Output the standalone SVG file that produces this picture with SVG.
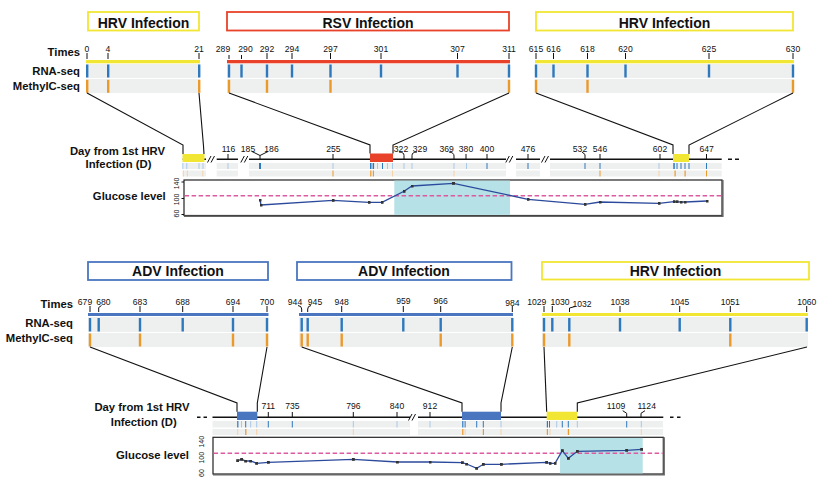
<svg xmlns="http://www.w3.org/2000/svg" width="819" height="485" viewBox="0 0 819 485">
<style>
text{font-family:"Liberation Sans",Arial,sans-serif;fill:#111}
.lbl{font-weight:bold;font-size:11.3px}
.ttl{font-weight:bold;font-size:14px}
.num{font-size:8.6px}
.ax{font-size:7px}
.tk{stroke:#111;stroke-width:1;fill:none}
.band{fill:#eeefef}
.rna{fill:#2e78bd}.met{fill:#ea9a2b}.rnal{fill:#a9c9e8}.metl{fill:#f5d3a6}
.yel{fill:#f1e633}.red{fill:#e8432a}.blu{fill:#4a76bf}
.tl{stroke:#111;stroke-width:1.4;fill:none}
.con{stroke:#111;stroke-width:1.1;fill:none}
.frame{fill:#fff;stroke:#222;stroke-width:1.2}
.shadow{stroke:#666;stroke-width:1.6;fill:none}
.cyan{fill:#b5e1e7}
.thr{stroke:#dd5aa0;stroke-width:1.5;stroke-dasharray:4.5 2.5;fill:none}
.glu{stroke:#2c4a9c;stroke-width:1.3;fill:none;marker-start:url(#sq);marker-mid:url(#sq);marker-end:url(#sq)}
</style>
<defs>
<marker id="sq" markerUnits="userSpaceOnUse" markerWidth="3" markerHeight="3" refX="1.5" refY="1.5"><rect width="3" height="3" fill="#333"/></marker>
</defs>

<!-- Title boxes -->
<g id="title-hrv1"><rect x="88" y="12" width="111" height="18.5" fill="#fff" stroke="#f1e633" stroke-width="1.8"/><text class="ttl" x="143.5" y="28" text-anchor="middle">HRV Infection</text></g>
<g id="title-rsv"><rect x="227" y="12" width="282" height="18.5" fill="#fff" stroke="#e8432a" stroke-width="1.8"/><text class="ttl" x="368" y="28" text-anchor="middle">RSV Infection</text></g>
<g id="title-hrv2"><rect x="536" y="12" width="257" height="18.5" fill="#fff" stroke="#f1e633" stroke-width="1.8"/><text class="ttl" x="664.5" y="28" text-anchor="middle">HRV Infection</text></g>
<g id="title-adv1"><rect x="88" y="262" width="180" height="18" fill="#fff" stroke="#4a76bf" stroke-width="1.8"/><text class="ttl" x="178" y="275.5" text-anchor="middle">ADV Infection</text></g>
<g id="title-adv2"><rect x="297" y="262" width="214.5" height="18" fill="#fff" stroke="#4a76bf" stroke-width="1.8"/><text class="ttl" x="404" y="275.5" text-anchor="middle">ADV Infection</text></g>
<g id="title-hrv3"><rect x="542" y="262" width="267" height="17.5" fill="#fff" stroke="#f1e633" stroke-width="1.8"/><text class="ttl" x="675.5" y="275.5" text-anchor="middle">HRV Infection</text></g>

<!-- Row labels -->
<g id="row-labels-top">
<text class="lbl" x="80" y="56" text-anchor="end">Times</text>
<text class="lbl" x="80" y="74.7" text-anchor="end">RNA-seq</text>
<text class="lbl" x="80" y="89.7" text-anchor="end">MethylC-seq</text>
</g>
<g id="row-labels-bottom">
<text class="lbl" x="73" y="308.3" text-anchor="end">Times</text>
<text class="lbl" x="73" y="326.7" text-anchor="end">RNA-seq</text>
<text class="lbl" x="73" y="342.3" text-anchor="end">MethylC-seq</text>
</g>

<!-- Section: HRV 0-21 -->
<g id="sec-hrv1">
<rect class="band" x="86" y="64" width="114" height="14"/><rect class="band" x="86" y="79" width="114" height="14"/>
<rect class="yel" x="86" y="60" width="114" height="3.3"/>
<path class="tk" d="M87,53V59M108,53V59M199,53V59"/>
<text class="num" text-anchor="middle" y="52"><tspan x="87">0</tspan><tspan x="108">4</tspan><tspan x="199">21</tspan></text>
<g class="rna"><rect x="86" y="64.5" width="2.4" height="13"/><rect x="107" y="64.5" width="2.4" height="13"/><rect x="198" y="64.5" width="2.4" height="13"/></g>
<g class="met"><rect x="86" y="79.8" width="2.4" height="13"/><rect x="107" y="79.8" width="2.4" height="13"/><rect x="198" y="79.8" width="2.4" height="13"/></g>
</g>

<!-- Section: RSV 289-311 -->
<g id="sec-rsv">
<rect class="band" x="227" y="64" width="283" height="14"/><rect class="band" x="227" y="79" width="283" height="14"/>
<rect class="red" x="227" y="60" width="283" height="3.3"/>
<path class="tk" d="M229,55V59M241.5,55V59M267,53V59M292,53V59M330.5,53V59M381,53V59M457.5,53V59M509,53V59"/>
<text class="num" text-anchor="middle" y="52"><tspan x="223">289</tspan><tspan x="245.5">290</tspan><tspan x="267">292</tspan><tspan x="292">294</tspan><tspan x="330.5">297</tspan><tspan x="381">301</tspan><tspan x="457.5">307</tspan><tspan x="509">311</tspan></text>
<g class="rna"><rect x="227.8" y="64.5" width="2.4" height="13"/><rect x="240.3" y="64.5" width="2.4" height="13"/><rect x="265.8" y="64.5" width="2.4" height="13"/><rect x="290.8" y="64.5" width="2.4" height="13"/><rect x="329.3" y="64.5" width="2.4" height="13"/><rect x="379.8" y="64.5" width="2.4" height="13"/><rect x="456.3" y="64.5" width="2.4" height="13"/><rect x="507.8" y="64.5" width="2.4" height="13"/></g>
<g class="met"><rect x="227.8" y="79.8" width="2.4" height="13"/><rect x="265.8" y="79.8" width="2.4" height="13"/><rect x="329.3" y="79.8" width="2.4" height="13"/><rect x="507.8" y="79.8" width="2.4" height="13"/></g>
</g>

<!-- Section: HRV 615-630 -->
<g id="sec-hrv2">
<rect class="band" x="535" y="64" width="259" height="14"/><rect class="band" x="535" y="79" width="259" height="14"/>
<rect class="yel" x="535" y="60" width="259" height="3.3"/>
<path class="tk" d="M536,53V59M553.5,53V59M587.5,53V59M625.5,53V59M709,53V59M793,53V59"/>
<text class="num" text-anchor="middle" y="52"><tspan x="536">615</tspan><tspan x="553.5">616</tspan><tspan x="587.5">618</tspan><tspan x="625.5">620</tspan><tspan x="709">625</tspan><tspan x="793">630</tspan></text>
<g class="rna"><rect x="534.8" y="64.5" width="2.4" height="13"/><rect x="552.3" y="64.5" width="2.4" height="13"/><rect x="586.3" y="64.5" width="2.4" height="13"/><rect x="624.3" y="64.5" width="2.4" height="13"/><rect x="707.8" y="64.5" width="2.4" height="13"/><rect x="791.8" y="64.5" width="2.4" height="13"/></g>
<g class="met"><rect x="534.8" y="79.8" width="2.4" height="13"/><rect x="586.3" y="79.8" width="2.4" height="13"/><rect x="791.8" y="79.8" width="2.4" height="13"/></g>
</g>

<!-- Top timeline -->
<g id="timeline-top">
<text class="lbl" x="117.5" y="154.5" text-anchor="middle">Day from 1st HRV</text>
<text class="lbl" x="118.5" y="167.5" text-anchor="middle">Infection (D)</text>
<g class="band">
<rect x="182.7" y="163" width="23.3" height="6"/><rect x="182.7" y="170.5" width="23.3" height="6"/>
<rect x="216.7" y="163" width="21.3" height="6"/><rect x="216.7" y="170.5" width="21.3" height="6"/>
<rect x="249" y="163" width="257" height="6"/><rect x="249" y="170.5" width="257" height="6"/>
<rect x="516" y="163" width="24" height="6"/><rect x="516" y="170.5" width="24" height="6"/>
<rect x="550" y="163" width="171.7" height="6"/><rect x="550" y="170.5" width="171.7" height="6"/>
</g>
<path class="tl" d="M182.7,159.3H206M216.7,159.3H238M249,159.3H506M516,159.3H540M550,159.3H721.7"/>
<path class="tl" d="M728,159.3H732M735,159.3H739"/>
<path class="tk" stroke-width="1.2" d="M207.5,162.5L211,156M211,162.5L214.5,156M240.8,162.5L244.3,156M244.3,162.5L247.8,156M505.8,162.5L509.3,156M509.3,162.5L512.8,156M541.5,162.5L545,156M545,162.5L548.5,156"/>
<rect class="yel" x="182.5" y="154" width="22" height="8"/>
<rect class="red" x="370" y="153.5" width="23" height="8.5"/>
<rect class="yel" x="673" y="154" width="16" height="8"/>
<path class="tk" d="M228,154V159.3M333,154V159.3M466,154V159.3M487,154V159.3M528,154V159.3M600,154V159.3M706.5,154V159.3M660,154V159.3"/>
<path class="tk" d="M252,151.5L260,155.5L268,151.5M260,155.5V159.3M399,152Q404,152 404,155.5V159.3M417,152Q412,152 412,155.5V159.3M449,152Q454,152.5 454,156V159.3M582,152L585,154.5V159.3"/>
<text class="num" font-size="8.8" text-anchor="middle" y="151.5"><tspan x="228.5">116</tspan><tspan x="248">185</tspan><tspan x="271.5">186</tspan><tspan x="333.3">255</tspan><tspan x="401">322</tspan><tspan x="420">329</tspan><tspan x="446.7">369</tspan><tspan x="466">380</tspan><tspan x="487">400</tspan><tspan x="528">476</tspan><tspan x="580">532</tspan><tspan x="600">546</tspan><tspan x="660">602</tspan><tspan x="706.7">647</tspan></text>
<g class="rnal"><rect x="182.3" y="163" width="1" height="6"/><rect x="186.3" y="163" width="1" height="6"/><rect x="198.5" y="163" width="1" height="6"/><rect x="202.5" y="163" width="1" height="6"/><rect x="227.5" y="163" width="1" height="6"/><rect x="332.5" y="163" width="1" height="6"/><rect x="377" y="163" width="1" height="6"/><rect x="387" y="163" width="1" height="6"/><rect x="392" y="163" width="1" height="6"/><rect x="403.5" y="163" width="1" height="6"/><rect x="411.5" y="163" width="1" height="6"/><rect x="453.5" y="163" width="1" height="6"/><rect x="466" y="163" width="1" height="6"/><rect x="658.5" y="163" width="1" height="6"/></g>
<g class="rna"><rect x="259" y="163" width="2" height="6"/><rect x="370" y="163" width="1.5" height="6"/><rect x="372.6" y="163" width="1.5" height="6"/><rect x="382" y="163" width="1" height="6"/><rect x="486.5" y="163" width="1" height="6"/><rect x="527.5" y="163" width="1" height="6"/><rect x="584.5" y="163" width="1" height="6"/><rect x="599.5" y="163" width="1" height="6"/><rect x="673.3" y="163" width="1.5" height="6"/><rect x="676.5" y="163" width="1" height="6"/><rect x="680.5" y="163" width="1" height="6"/><rect x="684.5" y="163" width="1" height="6"/><rect x="688.5" y="163" width="1" height="6"/><rect x="706" y="163" width="1" height="6"/></g>
<g class="metl"><rect x="182.8" y="170.5" width="1" height="6"/><rect x="186.8" y="170.5" width="1" height="6"/><rect x="202.3" y="170.5" width="1" height="6"/><rect x="392" y="170.5" width="1" height="6"/><rect x="453.5" y="170.5" width="1" height="6"/><rect x="658.5" y="170.5" width="1" height="6"/></g>
<g class="met"><rect x="332.5" y="170.5" width="1" height="6"/><rect x="370.2" y="170.5" width="1.2" height="6"/><rect x="372.8" y="170.5" width="1.2" height="6"/><rect x="599.5" y="170.5" width="1" height="6"/><rect x="674.5" y="170.5" width="1.2" height="6"/><rect x="684.5" y="170.5" width="1.2" height="6"/><rect x="706" y="170.5" width="1" height="6"/></g>
</g>

<!-- Top glucose plot -->
<g id="glucose-top">
<text class="lbl" x="165.7" y="200" text-anchor="end">Glucose level</text>
<rect class="frame" x="184" y="180" width="538" height="35.5"/>
<rect class="cyan" x="394.3" y="180.6" width="115.7" height="34.3"/>
<path class="shadow" d="M184,216.3H722.8V180"/>
<path class="tk" d="M184,182H181.5M184,198.5H181.5M184,214.5H181.5"/>
<g class="ax" text-anchor="middle"><text transform="translate(179,183.5) rotate(-90)">140</text><text transform="translate(179,199.5) rotate(-90)">100</text><text transform="translate(179,213.5) rotate(-90)">60</text></g>
<line class="thr" x1="184.6" y1="195.7" x2="721.4" y2="195.7"/>
<polyline class="glu" points="260,200 261,205 333,200.3 369,202.3 382,202.3 404,191.3 412,186 453.5,183.3 528,199.3 585,204.3 600,202 659,203.3 674,201.7 677,201.8 681,202 685,202 707,201"/>
</g>

<!-- Section: ADV 679-700 -->
<g id="sec-adv1">
<rect class="band" x="88" y="317" width="180.5" height="15"/><rect class="band" x="88" y="333" width="180.5" height="14"/>
<rect class="blu" x="88" y="313" width="180.5" height="3"/>
<path class="tk" d="M90,306V312M101.5,305.5L98.7,307.5V312M140,306V312M182.7,306V312M233,306V312M267,306V312"/>
<text class="num" text-anchor="middle" y="305.3"><tspan x="85">679</tspan><tspan x="103.3">680</tspan><tspan x="140">683</tspan><tspan x="182.7">688</tspan><tspan x="233">694</tspan><tspan x="267">700</tspan></text>
<g class="rna"><rect x="88.8" y="318" width="2.4" height="13.5"/><rect x="97.5" y="318" width="2.4" height="13.5"/><rect x="138.8" y="318" width="2.4" height="13.5"/><rect x="181.5" y="318" width="2.4" height="13.5"/><rect x="231.8" y="318" width="2.4" height="13.5"/><rect x="265.8" y="318" width="2.4" height="13.5"/></g>
<g class="met"><rect x="88.8" y="333.5" width="2.4" height="13"/><rect x="138.8" y="333.5" width="2.4" height="13"/><rect x="231.8" y="333.5" width="2.4" height="13"/><rect x="265.8" y="333.5" width="2.4" height="13"/></g>
</g>

<!-- Section: ADV 944-984 -->
<g id="sec-adv2">
<rect class="band" x="299" y="317" width="214" height="15"/><rect class="band" x="299" y="333" width="214" height="14"/>
<rect class="blu" x="299" y="313" width="214" height="3"/>
<path class="tk" d="M298,305.5Q301.7,306 301.7,309V312M311,305.5Q307.7,306 307.7,309V312M341.7,306V312M403.3,306V312M440.7,306V312M512.3,306V312"/>
<text class="num" text-anchor="middle" y="305.3"><tspan x="295">944</tspan><tspan x="315">945</tspan><tspan x="341.7">948</tspan><tspan x="403.3" dy="-1">959</tspan><tspan x="440.7">966</tspan><tspan x="512.3" dy="2">984</tspan></text>
<g class="rna"><rect x="300.5" y="318" width="2.4" height="13.5"/><rect x="306.5" y="318" width="2.4" height="13.5"/><rect x="340.5" y="318" width="2.4" height="13.5"/><rect x="402.1" y="318" width="2.4" height="13.5"/><rect x="439.5" y="318" width="2.4" height="13.5"/><rect x="511.1" y="318" width="2.4" height="13.5"/></g>
<g class="met"><rect x="300.5" y="333.5" width="2.4" height="13"/><rect x="306.5" y="333.5" width="2.4" height="13"/><rect x="340.5" y="333.5" width="2.4" height="13"/><rect x="439.5" y="333.5" width="2.4" height="13"/><rect x="511.1" y="333.5" width="2.4" height="13"/></g>
</g>

<!-- Section: HRV 1029-1060 -->
<g id="sec-hrv3">
<rect class="band" x="542" y="317" width="266" height="15"/><rect class="band" x="542" y="333" width="266" height="14"/>
<rect class="yel" x="542" y="313" width="266" height="3"/>
<path class="tk" d="M544,306V312M552.3,306V312M575,306.5L569.5,308V312M620,306V312M679.7,306V312M730.3,306V312M806.7,306V312"/>
<text class="num" text-anchor="middle" y="305.3"><tspan x="536.7">1029</tspan><tspan x="560">1030</tspan><tspan x="582" dy="2">1032</tspan><tspan x="620" dy="-2">1038</tspan><tspan x="679.7">1045</tspan><tspan x="730.3">1051</tspan><tspan x="806.7">1060</tspan></text>
<g class="rna"><rect x="542.8" y="318" width="2.4" height="13.5"/><rect x="551.1" y="318" width="2.4" height="13.5"/><rect x="568.1" y="318" width="2.4" height="13.5"/><rect x="618.8" y="318" width="2.4" height="13.5"/><rect x="678.5" y="318" width="2.4" height="13.5"/><rect x="729.1" y="318" width="2.4" height="13.5"/><rect x="805.5" y="318" width="2.4" height="13.5"/></g>
<g class="met"><rect x="542.8" y="333.5" width="2.4" height="13"/><rect x="568.1" y="333.5" width="2.4" height="13"/><rect x="729.1" y="333.5" width="2.4" height="13"/></g>
</g>

<!-- Bottom timeline -->
<g id="timeline-bottom">
<text class="lbl" x="142" y="410.7" text-anchor="middle">Day from 1st HRV</text>
<text class="lbl" x="143.7" y="426" text-anchor="middle">Infection (D)</text>
<g class="band">
<rect x="212.5" y="421" width="197.5" height="6.5"/><rect x="212.5" y="429" width="197.5" height="6"/>
<rect x="418" y="421" width="245" height="6.5"/><rect x="418" y="429" width="245" height="6"/>
</g>
<path class="tl" d="M212.5,417.3H410M418,417.3H663.3"/>
<path class="tl" d="M197,417.3H200.5M203.5,417.3H207M670,417.3H673.5M677,417.3H680.5"/>
<path class="tk" stroke-width="1.2" d="M408.5,420.5L412,414M412,420.5L415.5,414"/>
<rect class="blu" x="237" y="411.7" width="20.3" height="8.3"/>
<rect class="blu" x="462" y="411.7" width="39" height="8.3"/>
<rect class="yel" x="546.7" y="411.7" width="30.6" height="8.3"/>
<path class="tk" d="M268.3,412V417.3M292.3,412V417.3M353.3,412V417.3M397,412V417.3M430,412V417.3M622.7,410.7L626.7,413.3V417.3M645,410.7L641,413.3V417.3"/>
<text class="num" font-size="8.8" text-anchor="middle" y="409"><tspan x="268.3">711</tspan><tspan x="292.3">735</tspan><tspan x="353.3">796</tspan><tspan x="397">840</tspan><tspan x="430">912</tspan><tspan x="616">1109</tspan><tspan x="646.7">1124</tspan></text>
<g class="rnal"><rect x="241" y="421" width="1" height="6.5"/><rect x="250.2" y="421" width="1" height="6.5"/><rect x="256.2" y="421" width="1" height="6.5"/><rect x="352.8" y="421" width="1" height="6.5"/><rect x="396.5" y="421" width="1" height="6.5"/><rect x="429.5" y="421" width="1" height="6.5"/><rect x="500.5" y="421" width="1" height="6.5"/><rect x="556.2" y="421" width="1" height="6.5"/><rect x="576.8" y="421" width="1" height="6.5"/><rect x="640.8" y="421" width="1" height="6.5"/></g>
<g class="rna"><rect x="237.2" y="421" width="1.2" height="6.5"/><rect x="245.2" y="421" width="1" height="6.5"/><rect x="267.8" y="421" width="1" height="6.5"/><rect x="291.8" y="421" width="1" height="6.5"/><rect x="462.2" y="421" width="1.2" height="6.5"/><rect x="464.6" y="421" width="1" height="6.5"/><rect x="476.2" y="421" width="1" height="6.5"/><rect x="482.8" y="421" width="1" height="6.5"/><rect x="546.8" y="421" width="1.2" height="6.5"/><rect x="549" y="421" width="1" height="6.5"/><rect x="561.8" y="421" width="1" height="6.5"/><rect x="567.8" y="421" width="1" height="6.5"/><rect x="626.2" y="421" width="1" height="6.5"/></g>
<g class="metl"><rect x="237.2" y="429" width="1" height="6"/><rect x="256.2" y="429" width="1" height="6"/><rect x="352.8" y="429" width="1" height="6"/><rect x="464.6" y="429" width="1" height="6"/><rect x="500.5" y="429" width="1" height="6"/><rect x="549.5" y="429" width="1" height="6"/><rect x="640.8" y="429" width="1" height="6"/></g>
<g class="met"><rect x="245.2" y="429" width="1.2" height="6"/><rect x="462.2" y="429" width="1.2" height="6"/><rect x="482.8" y="429" width="1.2" height="6"/><rect x="546.8" y="429" width="1.2" height="6"/><rect x="567.8" y="429" width="1.2" height="6"/></g>
</g>

<!-- Bottom glucose plot -->
<g id="glucose-bottom">
<text class="lbl" x="152.5" y="459" text-anchor="middle">Glucose level</text>
<rect class="frame" x="213" y="437.3" width="450.3" height="36.7"/>
<rect class="cyan" x="560" y="437.9" width="82.7" height="35.5"/>
<path class="shadow" d="M213,474.8H664.1V437.3"/>
<g class="ax" font-size="6" text-anchor="middle"><text transform="translate(204,441.7) rotate(-90)">140</text><text transform="translate(204,457.7) rotate(-90)">100</text><text transform="translate(204,473) rotate(-90)">60</text></g>
<line class="thr" x1="213.6" y1="453.3" x2="662.7" y2="453.3"/>
<polyline class="glu" points="237.7,460.7 241.7,459.3 245.7,461 250.7,461 256.7,463.3 268.3,462.3 353.3,459.3 397.3,462 430,462 462.3,462.7 466.7,464 476.7,468.3 483.3,464.3 501.3,464.3 546.7,462.3 550,463.3 555,463.3 562.3,450.7 568.3,458.3 577.3,451.3 626.7,450.3 641.7,449.3"/>
</g>

<!-- Connectors -->
<g id="connectors">
<polyline class="con" points="87,93 183,145 183,154"/>
<polyline class="con" points="199,93 203.5,146 204,154"/>
<polyline class="con" points="229,93 370,145 370,153.5"/>
<polyline class="con" points="509,93 393,145 393,153.5"/>
<polyline class="con" points="536,93 673,145 673,154"/>
<polyline class="con" points="793,93 689,145 689,154"/>
<polyline class="con" points="90,347 237,403 237,411.7"/>
<polyline class="con" points="267,347 257.3,403 257.3,411.7"/>
<polyline class="con" points="301.7,347 462,403 462,411.7"/>
<polyline class="con" points="512.3,347 501,403 501,411.7"/>
<polyline class="con" points="544,347 546.7,411.7"/>
<polyline class="con" points="807,347 577.3,403 577.3,411.7"/>
</g>
</svg>
